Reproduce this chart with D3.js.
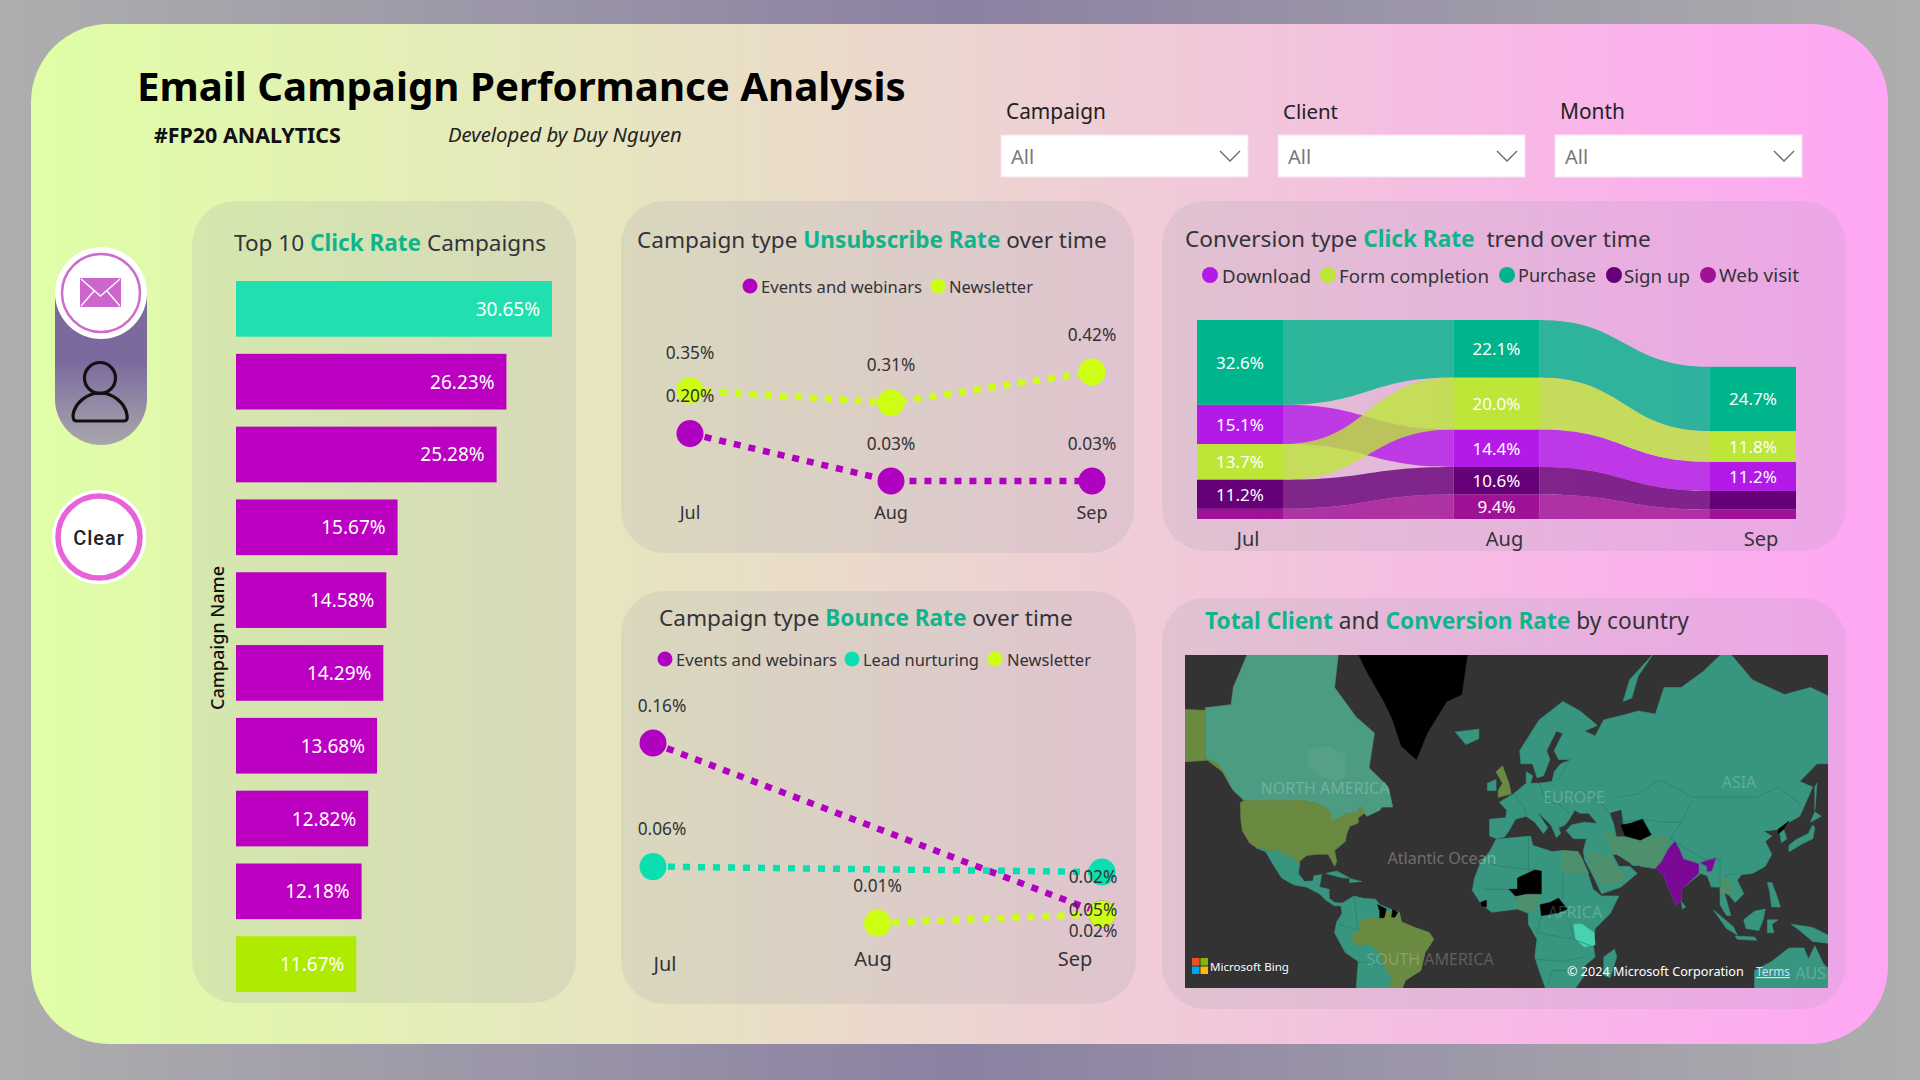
<!DOCTYPE html>
<html><head><meta charset="utf-8">
<script src="https://cdn.jsdelivr.net/npm/d3@7/dist/d3.min.js"></script>
<style>html,body{margin:0;padding:0;width:1920px;height:1080px;overflow:hidden;background:#a0a0a8}svg{display:block;font-family:"Noto Sans",sans-serif}</style>
</head><body>
<svg id="c" width="1920" height="1080"></svg>
<script>
// ---------- data ----------
const months = ["Jul","Aug","Sep"];
const clickRates = [30.65,26.23,25.28,15.67,14.58,14.29,13.68,12.82,12.18,11.67];
const unsubEvents = [0.20,0.03,0.03];
const unsubNewsletter = [0.354,0.31,0.42];
const bounceEvents = [0.16,null,0.0175];
const bounceLead = [0.057,null,0.0525];
const bounceNewsletter = [null,0.01,0.0175];
const bounceLabelsEvents = ["0.16%",null,"0.02%"];
const bounceLabelsLead = ["0.06%",null,"0.05%"];
const bounceLabelsNewsletter = [null,"0.01%","0.02%"];
const convTypes = ["Download","Form completion","Purchase","Sign up","Web visit"];
const convDownload = [15.1,14.4,11.2];
const convForm = [13.7,20.0,11.8];
const convPurchase = [32.6,22.1,24.7];
const convSignup = [11.2,10.6,7.2];
const convWeb = [3.9,9.4,3.6];
const slicers = ["Campaign","Client","Month"];

// coarse country outlines, [longitude, latitude]
const landBase = [
 [[-9,37],[-9,43],[-1.5,43.5],[-1,46],[-4.5,48.5],[2,51],[8,54],[8,57],[11,56],[10,54],[14,54],[20,54.5],[21,57],[24,59],[29,60],[23,60],[21,62],[25,65.5],[22,66],[17.5,62],[19,60],[16,56],[13,55.5],[11,59],[5.5,59],[5,62],[14,68],[25,71],[33,69.5],[41,67],[35,66],[40,65],[44,68],[55,69],[60,69.5],[68,69],[72,73],[80,73],[90,75],[101,77.5],[113,74],[128,72],[140,73],[160,70],[180,69],[180,65],[178,62],[170,60],[163,58],[162,55],[156.5,51],[156,57],[163,62],[155,59],[143,59],[135,54.5],[141,53],[135,44],[130,42],[127.5,39.5],[129,36],[126.5,34.5],[126,37],[125,39.5],[121,39],[118,39],[122,37],[119,35],[122,30],[119,25],[113,22],[108,21.5],[106,19],[109,13],[105,9],[102,12.5],[100,13.5],[103,3],[101,3],[98,8],[98,16],[94,16],[92,21],[89,22],[80,15],[80,10],[77.5,8],[73,18],[72,21],[67,25],[57,25.5],[57,27],[50,30],[48,30],[51,25],[56,25],[59.5,22],[52,16],[43,13],[39,21],[35,28],[34.5,31.5],[36,36],[30,36],[26.5,39],[29,41],[35,42],[41,41.5],[37,45],[33,45],[30.5,46],[28,43],[26,41],[23,40],[24,38],[22,36.5],[19.5,41],[13,45.5],[18,40],[16,38],[12,42],[8,44],[3,43],[0,39],[-2,36.8],[-5.5,36]],
 [[-6,35.8],[10,37],[11,33.5],[20,31],[25,31.5],[32,31],[34,28],[37,21],[39,15],[43,12],[51,12],[47,4],[40,-3],[39,-10],[40,-16],[35,-20],[35,-24],[32,-28],[28,-33],[20,-35],[18,-32],[14,-22],[12,-16],[13,-8],[9,-1],[9,4],[4,6],[-4,5],[-8,4.5],[-13,8.5],[-17,14.5],[-16,20],[-13,27],[-9,31]],
 [[44,-16],[49,-12.5],[50,-16],[47,-25],[44,-24]],
 [[-117.2,32.5],[-114.8,32.5],[-111,31.3],[-106.5,31.8],[-103,29],[-101,29.5],[-97.2,26],[-97.8,22],[-95,18.5],[-91,18.7],[-90.5,21],[-87,21.5],[-88,16],[-83.5,15],[-83.5,11],[-81,9],[-77.5,8.7],[-78,7.5],[-81,7.5],[-85,10],[-88,13],[-94,16],[-100,17],[-105.5,20],[-109,25],[-113,31]],
 [[-77.5,8.7],[-72,12],[-68,11],[-62,10.5],[-60,8],[-55,6],[-51,4.5],[-50,0],[-44,-2.5],[-37,-5],[-35,-8],[-39,-14],[-41,-22],[-48,-26],[-50,-30],[-53,-34],[-58,-34.5],[-57,-38],[-62,-39],[-65,-43],[-68,-50],[-72,-53],[-75,-47],[-73,-38],[-71,-30],[-70,-18],[-76,-14],[-81,-5],[-80,0],[-77.5,4],[-78,7.5]],
 [[-25,65.8],[-14,66.3],[-14,64.5],[-20,63.3]],
 [[-10,52],[-6,52],[-6,55],[-10,54]],
 [[-85,22],[-80,23],[-74,20],[-77,20]],
 [[-74,19.8],[-68.5,18.5],[-74,18]],
 [[130,31],[136,34],[141,36],[142,40],[141,41],[139,38],[133,35.5],[130,33.5]],
 [[140,42],[145,44],[142,45.5]],
 [[142,46],[143,54],[142,53]],
 [[95,5.5],[104,-2],[106,-6],[101,-3]],
 [[109,1],[114,5],[119,6],[118,1],[116,-4],[110,-3]],
 [[105,-6.5],[114,-7],[115,-8.5],[106,-8]],
 [[120,1],[125,1],[122,-1],[123,-5],[120,-5]],
 [[120,18],[122,18],[124,13],[126,7],[122,7],[121,14]],
 [[131,-1],[141,-2.5],[148,-6],[150,-10],[141,-9],[135,-4]],
 [[53,71],[56,74],[67,77],[60,74.5],[57,71.5]],
 [[80,9.5],[82,7],[80.5,6]],
 [[114,-22],[122,-18],[130,-12],[137,-12],[139,-17],[142,-11],[146,-19],[153,-26],[150,-37],[114,-35]]
];
const landCanada = [
 [[-141,70],[-129,70.5],[-128,73],[-120.5,77.5],[-79,77.5],[-81,73],[-71,68.5],[-62.5,65.6],[-65,58],[-56,53],[-54,47],[-59,47],[-60,46],[-66,44],[-67,45],[-69,47.3],[-71,45],[-75,45],[-79,43.5],[-83,42],[-82.5,45],[-84.5,46.5],[-89,48],[-95,49],[-123,49],[-128,52],[-131,55],[-135,59],[-141,60.3]]
];
const landHudson = [[[-93,62],[-84,63],[-76,61],[-76,56],[-81,54.5],[-88,56],[-93,58]]];
const landOlive = [
 [[-170,70],[-141,69.6],[-141,60.3],[-135,59],[-130,55],[-133,57],[-140,59.8],[-150,59.5],[-170,55]],
 [[-124.7,48.4],[-123,49],[-95,49],[-89,48],[-84.5,46.5],[-82.5,45],[-83,42],[-79,43.5],[-75,45],[-71,45],[-69,47.3],[-67,45],[-70,43.5],[-70,41.7],[-74,40.5],[-75.5,37.5],[-76,35],[-81,31.5],[-80,27],[-81,25],[-82.7,28],[-84,30],[-89,30],[-94,29.5],[-97.3,27],[-97.2,26],[-101,29.5],[-103,29],[-106.5,31.8],[-111,31.3],[-114.8,32.5],[-117.2,32.5],[-120.5,34.5],[-123.8,39],[-124.5,43]],
 [[-60,5],[-60,1],[-64,2],[-69,1],[-70,-4],[-74,-7.5],[-70,-11],[-65,-10],[-60,-14],[-58,-20],[-55,-24],[-54,-26],[-57,-30],[-53,-34],[-50,-30],[-48,-26],[-41,-22],[-39,-14],[-35,-8],[-37,-5],[-44,-2.5],[-50,0],[-51,4.5]],
 [[-5,50],[1,51],[0,54],[-3,58.5],[-6,57],[-3,54],[-5,52]]
];
const landMuted = [
 [[36,31],[47,29],[50,25],[55,22],[52,18],[43,17],[39,21]],
 [[25,31.5],[32,31],[34,28],[37,22],[25,22]],
 [[3,13],[14,13],[13,7],[9,4.5],[4,6.3]],
 [[44,39],[48,38],[54,37],[61,36],[61,26],[57,26],[50,30],[48,30]],
 [[61,36],[71,37],[75,36],[71,27],[68,24],[61,25]],
 [[98,20],[101,20],[105,15],[102,12.5],[100,13.5],[99,10],[98,15]]
];
const landBlack = [
 [[-71,77.5],[-19,77.5],[-22,72],[-29,71],[-38,65.6],[-43,60],[-50,63],[-54,68],[-58,71],[-66,75]],
 [[52,41],[56,41.5],[62,43],[66,37.5],[61,35.5],[54,37]],
 [[0,15],[4,15],[4,20],[12,23.5],[15,23],[15,13],[8,13],[3,12]],
 [[14.5,8],[19,9],[23,11],[27,6],[22,4],[15,3]],
 [[-61,8],[-57,6],[-58,2],[-60,2],[-60,5]],
 [[-54,5.8],[-51.7,4.5],[-53,2.2],[-54.5,2.3]],
 [[125,39.5],[130,42.3],[127.5,39.5],[125,37.8]],
 [[-13.2,9],[-10.5,10],[-10.5,7],[-12.5,7.5]]
];
const landIndia = [
 [[68,24],[71,27],[74,32],[77,35],[79,32],[81,28],[88,26],[88,22],[80,15],[80,10],[77.5,8],[73,18],[72,21]],
 [[89,26.5],[96,28.5],[94,23],[92,23],[92,25]]
];
const landTanzania = [[[30,-1],[34,-1],[39.5,-5],[40,-10.5],[35,-11.5],[31,-8]]];
const innerSeas = [[[47,45],[52,46],[53,41],[54,37],[50,37],[49,41]]];
const borderLines = [
 [[50,50],[60,51],[70,55],[85,50],[97,50],[115,50],[125,53],[135,48]],
 [[75,36],[80,42],[85,49]],[[52,42],[62,43],[72,42],[80,42]],
 [[23,55],[28,60]],[[14,54],[17,49],[23,48],[28,45]],[[2,51],[7,47],[8,44]],[[23,48],[33,52],[40,50],[47,45]],
 [[14,23],[14,13]],[[25,22],[25,10]],[[9,37],[9,23]],[[-12,15],[4,15]],[[-13,27],[-3,25],[12,23.5]],
 [[13,-5],[30,-8],[38,-11]],[[12,-17],[25,-18],[35,-16]],[[18,-28],[20,-22],[30,-22]],[[27,5],[30,-8]],[[15,3],[13,-5]],
 [[-70,-4],[-79,-1]],[[-72,12],[-70,-4]],[[-70,-18],[-58,-20]],[[98,28],[98,16]],[[75,36],[90,28],[98,28]],[[100,21],[106,22]]
];
const mapLabels = [["NORTH AMERICA",1325,788],["EUROPE",1574,797],["ASIA",1739,782],["AFRICA",1575,912],["SOUTH AMERICA",1430,959],["AUST",1815,973]];

// ---------- frame ----------
const svg = d3.select("#c");
const defs = svg.append("defs");
function grad(id, stops, attrs){
  const g = defs.append("linearGradient").attr("id",id);
  Object.entries(attrs||{}).forEach(([k,v])=>g.attr(k,v));
  stops.forEach(s=>g.append("stop").attr("offset",s[0]).attr("stop-color",s[1]));
}
grad("bg",[["0","#aeaeae"],["0.5","#8b81a2"],["1","#aeaeae"]]);
grad("card",[["0","#dfffa6"],["0.5","#ecd5d0"],["1","#ffa6f5"]]);
grad("pill",[["0","#7c6a9e"],["0.45","#7c6a9e"],["1","#a9a7ad"]],{x1:0,y1:0,x2:0,y2:1});
const DARK="#333338", TEAL="#10B48C";
svg.append("rect").attr("width",1920).attr("height",1080).attr("fill","url(#bg)");
svg.append("rect").attr("x",31).attr("y",24).attr("width",1857).attr("height",1020).attr("rx",78).attr("fill","url(#card)");

function fit(sel,w){
  const n=sel.node(), fs=parseFloat(sel.attr("font-size"));
  sel.attr("font-size",(fs*w/n.getComputedTextLength()).toFixed(2));
  return sel;
}
function text(x,y,t,size,fill,opts){
  opts=opts||{};
  const s=svg.append("text").attr("x",x).attr("y",y).text(t).attr("font-size",size).attr("fill",fill)
    .attr("text-anchor",opts.anchor||"start").attr("font-weight",opts.weight||400).attr("font-style",opts.style||"normal");
  if(opts.mid) s.attr("dominant-baseline","central");
  if(opts.width) fit(s,opts.width);
  return s;
}
function title(x,y,parts,width){
  const s=svg.append("text").attr("x",x).attr("y",y).attr("font-size",24).style("white-space","pre");
  parts.forEach(p=>s.append("tspan").text(p[0]).attr("fill",p[1]?TEAL:DARK).attr("font-weight",p[1]?700:400));
  fit(s,width);
}
function panel(x0,y0,x1,y1){
  svg.append("rect").attr("x",x0).attr("y",y0).attr("width",x1-x0).attr("height",y1-y0).attr("rx",44).attr("fill","rgb(150,152,170)").attr("fill-opacity",0.17);
}
function legend(y,items,r){
  items.forEach(d=>{
    svg.append("circle").attr("cx",d[0]).attr("cy",y).attr("r",r).attr("fill",d[3]);
    text(d[1],y,d[2],19,DARK,{mid:true,width:d[4]});
  });
}

// ---------- header ----------
text(137,101,"Email Campaign Performance Analysis",40,"#000",{weight:700,width:769});
text(154,143,"#FP20 ANALYTICS",20,"#111",{weight:700,width:187});
text(448,142,"Developed by Duy Nguyen",20,"#222",{style:"italic",width:234});
const slicerX = d3.scalePoint().domain(slicers).range([1001,1555]);
slicers.forEach(s=>{
  const x=slicerX(s);
  text(x+5,119,s,21,"#222",{width:s==="Campaign"?100:(s==="Client"?55:65)});
  svg.append("rect").attr("x",x).attr("y",135).attr("width",247).attr("height",42).attr("fill","#fff").attr("stroke","#f3e3f0");
  text(x+10,164,"All",20,"#777");
  svg.append("path").attr("d",`M${x+219} 151 L${x+229} 161 L${x+239} 151`).attr("fill","none").attr("stroke","#666").attr("stroke-width",1.3);
});

// ---------- left icons ----------
svg.append("path").attr("d","M55 293 V399 A46 46 0 0 0 147 399 V293 Z").attr("fill","url(#pill)");
svg.append("circle").attr("cx",101).attr("cy",293).attr("r",46).attr("fill","#fff");
svg.append("circle").attr("cx",101).attr("cy",293).attr("r",39).attr("fill","none").attr("stroke","#CE6CCB").attr("stroke-width",2.5);
svg.append("rect").attr("x",80).attr("y",278).attr("width",41).attr("height",29).attr("fill","#CC66CC");
svg.append("path").attr("d","M81 279 L100.5 296 L120 279 M81 306 L94 291 M120 306 L107 291").attr("fill","none").attr("stroke","#fff").attr("stroke-width",1.4);
svg.append("circle").attr("cx",100).attr("cy",378).attr("r",15.5).attr("fill","none").attr("stroke","#111").attr("stroke-width",3.2);
svg.append("path").attr("d","M76 421 H124 Q128 421 127 415 C125 402 112 393 100 393 C88 393 75 402 73 415 Q73 421 76 421 Z").attr("fill","none").attr("stroke","#111").attr("stroke-width",3.2);
svg.append("circle").attr("cx",99).attr("cy",537).attr("r",47).attr("fill","#fff");
svg.append("circle").attr("cx",99).attr("cy",537).attr("r",41).attr("fill","#fff").attr("stroke","#E862D8").attr("stroke-width",5.5);
text(99,538,"Clear",20,"#222",{anchor:"middle",mid:true,weight:500}).style("font-family","Roboto").style("letter-spacing","1px");

// ---------- panels ----------
panel(192,201,576,1003);
panel(621,201,1134,553);
panel(1162,201,1846,551);
panel(621,591,1136,1004);
panel(1162,598,1846,1009);

// ---------- bars ----------
title(234,251,[["Top 10 "],["Click Rate",1],[" Campaigns"]],312);
const barX = d3.scaleLinear().domain([0,30.65]).range([236,552]);
const barY = d3.scaleBand().domain(d3.range(clickRates.length)).range([281,992]).paddingInner(0.235);
const barFill = i => i===0?"#1FE0AE":(i===clickRates.length-1?"#AEEB00":"#BB00C2");
svg.append("g").selectAll("rect").data(clickRates).join("rect")
  .attr("x",barX(0)).attr("y",(d,i)=>barY(i)).attr("width",d=>barX(d)-barX(0)).attr("height",barY.bandwidth()).attr("fill",(d,i)=>barFill(i));
clickRates.forEach((d,i)=>text(barX(d)-12,barY(i)+barY.bandwidth()/2,d.toFixed(2)+"%",19,"#fff",{anchor:"end",mid:true}));
text(0,0,"Campaign Name",18,"#111",{anchor:"middle",mid:true,weight:500,width:144}).attr("transform","translate(217,638) rotate(-90)");

// ---------- line charts ----------
const PURPLE="#B000C0", LIME="#CCFF14", AQUA="#0ADFB0";
function dotLine(x,y,vals,color){
  const pts = vals.map((v,i)=>[months[i],v]).filter(p=>p[1]!==null);
  svg.append("path").attr("d",d3.line().x(p=>x(p[0])).y(p=>y(p[1]))(pts))
    .attr("fill","none").attr("stroke",color).attr("stroke-width",6.5).attr("stroke-dasharray","7 8");
  pts.forEach(p=>svg.append("circle").attr("cx",x(p[0])).attr("cy",y(p[1])).attr("r",13.5).attr("fill",color));
}
// unsubscribe
title(637,248,[["Campaign type "],["Unsubscribe Rate",1],[" over time"]],470);
legend(286,[[750,761,"Events and webinars",PURPLE,161],[938,949,"Newsletter",LIME,84]],7.5);
const unX=d3.scalePoint().domain(months).range([690,1092]);
const unY=d3.scaleLinear().domain([0.03,0.42]).range([481,372]);
dotLine(unX,unY,unsubNewsletter,LIME);
dotLine(unX,unY,unsubEvents,PURPLE);
[unsubNewsletter,unsubEvents].forEach(vals=>vals.forEach((v,i)=>text(unX(months[i]),unY(v)-38,v.toFixed(2)+"%",17.3,DARK,{anchor:"middle",mid:true})));
months.forEach(m=>text(unX(m),512,m,18,DARK,{anchor:"middle",mid:true}));

// bounce
title(659,626,[["Campaign type "],["Bounce Rate",1],[" over time"]],414);
legend(659,[[665,676,"Events and webinars",PURPLE,161],[852,863,"Lead nurturing",AQUA,116],[995,1007,"Newsletter",LIME,84]],7.5);
const boX=d3.scalePoint().domain(months).range([653,1102]);
const boY=d3.scaleLinear().domain([0.01,0.16]).range([923,743]);
dotLine(boX,boY,bounceEvents,PURPLE);
dotLine(boX,boY,bounceLead,AQUA);
dotLine(boX,boY,bounceNewsletter,LIME);
function boLabels(vals,labels,sepDy){
  vals.forEach((v,i)=>{ if(v===null) return;
    const isSep=i===2;
    text(boX(months[i])+(i===0?9:(isSep?-9:0)),boY(v)+(isSep?sepDy:-38),labels[i],17.3,DARK,{anchor:"middle",mid:true});
  });
}
boLabels(bounceEvents,bounceLabelsEvents,-38);
boLabels(bounceLead,bounceLabelsLead,37);
boLabels(bounceNewsletter,bounceLabelsNewsletter,16);
const boTick=d3.scaleOrdinal().domain(months).range([[665,963],[873,958],[1075,958]]);
months.forEach(m=>text(boTick(m)[0],boTick(m)[1],m,20,DARK,{anchor:"middle",mid:true}));

// ---------- ribbon ----------
title(1185,247,[["Conversion type "],["Click Rate",1],["  trend over time"]],466);
const convColor=d3.scaleOrdinal().domain(convTypes).range(["#B31AE8","#BDE639","#00B48C","#660078","#A01295"]);
legend(275,[[1210,1222,convTypes[0],convColor(convTypes[0]),89],[1328,1339,convTypes[1],convColor(convTypes[1]),150],[1507,1518,convTypes[2],convColor(convTypes[2]),78],[1614,1624,convTypes[3],convColor(convTypes[3]),66],[1708,1719,convTypes[4],convColor(convTypes[4]),80]],8);
const convVals={[convTypes[0]]:convDownload,[convTypes[1]]:convForm,[convTypes[2]]:convPurchase,[convTypes[3]]:convSignup,[convTypes[4]]:convWeb};
const rbW=86;
const rbLeft=d3.scalePoint().domain(months).range([1197,1710]);
const rbY=d3.scaleLinear().domain([0,76.5]).range([519,320]);
const stackAt={};
months.forEach((m,i)=>{
  const order=convTypes.slice().sort((a,b)=>convVals[a][i]-convVals[b][i]);
  let acc=0; order.forEach(t=>{(stackAt[t]=stackAt[t]||[])[i]=[acc,acc+convVals[t][i]];acc+=convVals[t][i];});
});
const ribbonArea=d3.area().x(d=>d.x).y0(d=>rbY(d.a)).y1(d=>rbY(d.b)).curve(d3.curveBumpX);
convTypes.forEach(t=>{
  [0,1].forEach(i=>{
    const seg=[{x:rbLeft(months[i])+rbW,a:stackAt[t][i][0],b:stackAt[t][i][1]},{x:rbLeft(months[i+1]),a:stackAt[t][i+1][0],b:stackAt[t][i+1][1]}];
    svg.append("path").attr("d",ribbonArea(seg)).attr("fill",convColor(t)).attr("fill-opacity",0.8);
  });
});
convTypes.forEach(t=>months.forEach((m,i)=>{
  const s=stackAt[t][i];
  svg.append("rect").attr("x",rbLeft(m)).attr("y",rbY(s[1])).attr("width",rbW).attr("height",rbY(s[0])-rbY(s[1])).attr("fill",convColor(t));
}));
convTypes.forEach(t=>months.forEach((m,i)=>{
  const s=stackAt[t][i], v=convVals[t][i];
  if(v>=9) text(rbLeft(m)+rbW/2,(rbY(s[0])+rbY(s[1]))/2,v.toFixed(1)+"%",17,"#fff",{anchor:"middle",mid:true});
}));
months.forEach(m=>text(rbLeft(m)+rbW/2+8,538,m,20,DARK,{anchor:"middle",mid:true}));

// ---------- map ----------
title(1205,629,[["Total Client",1],[" and "],["Conversion Rate",1],[" by country"]],484);
defs.append("clipPath").attr("id","mapClip").append("rect").attr("x",1185).attr("y",655).attr("width",643).attr("height",333);
const proj=d3.geoMercator().scale(123.4).translate([1509,922]);
const shapeLine=d3.line().x(d=>proj(d)[0]).y(d=>proj(d)[1]).curve(d3.curveLinearClosed);
const openLine=d3.line().x(d=>proj(d)[0]).y(d=>proj(d)[1]);
const gm=svg.append("g").attr("clip-path","url(#mapClip)");
gm.append("rect").attr("x",1185).attr("y",655).attr("width",643).attr("height",333).attr("fill","#333333");
function land(shapes,fill){
  gm.append("g").selectAll("path").data(shapes).join("path").attr("d",shapeLine).attr("fill",fill).attr("stroke",fill).attr("stroke-width",.6).attr("stroke-linejoin","round");
}
land(landBase,"#38957F");
land(landCanada,"#4C9C84");
land(landHudson,"#569F88");
land(landOlive,"#6A8A42");
land(landMuted,"#4E8F6C");
land(landIndia,"#7A0A96");
land(landTanzania,"#48D3B0");
land(innerSeas,"#333333");
gm.append("g").selectAll("path").data(borderLines).join("path").attr("d",openLine).attr("fill","none").attr("stroke","#2B7D6B").attr("stroke-width",.7);
land(landBlack,"#000");
mapLabels.forEach(d=>gm.append("text").attr("x",d[1]).attr("y",d[2]).text(d[0]).attr("text-anchor","middle").attr("dominant-baseline","central").attr("font-size",16).attr("fill","#fff").attr("fill-opacity",0.22));
gm.append("text").attr("x",1442).attr("y",858).text("Atlantic Ocean").attr("text-anchor","middle").attr("dominant-baseline","central").attr("font-size",16).attr("fill","#fff").attr("fill-opacity",0.3);
[["#F25022",0,0],["#7FBA00",8.5,0],["#00A4EF",0,8.5],["#FFB900",8.5,8.5]].forEach(c=>gm.append("rect").attr("x",1192+c[1]).attr("y",958+c[2]).attr("width",7.5).attr("height",7.5).attr("fill",c[0]));
text(1210,966,"Microsoft Bing",13,"#fff",{mid:true,width:79});
text(1567,971,"© 2024 Microsoft Corporation",13,"#fff",{mid:true,width:177});
text(1756,971,"Terms",13,"#cfe0ff",{mid:true,width:34}).attr("text-decoration","underline");
</script>
</body></html>
